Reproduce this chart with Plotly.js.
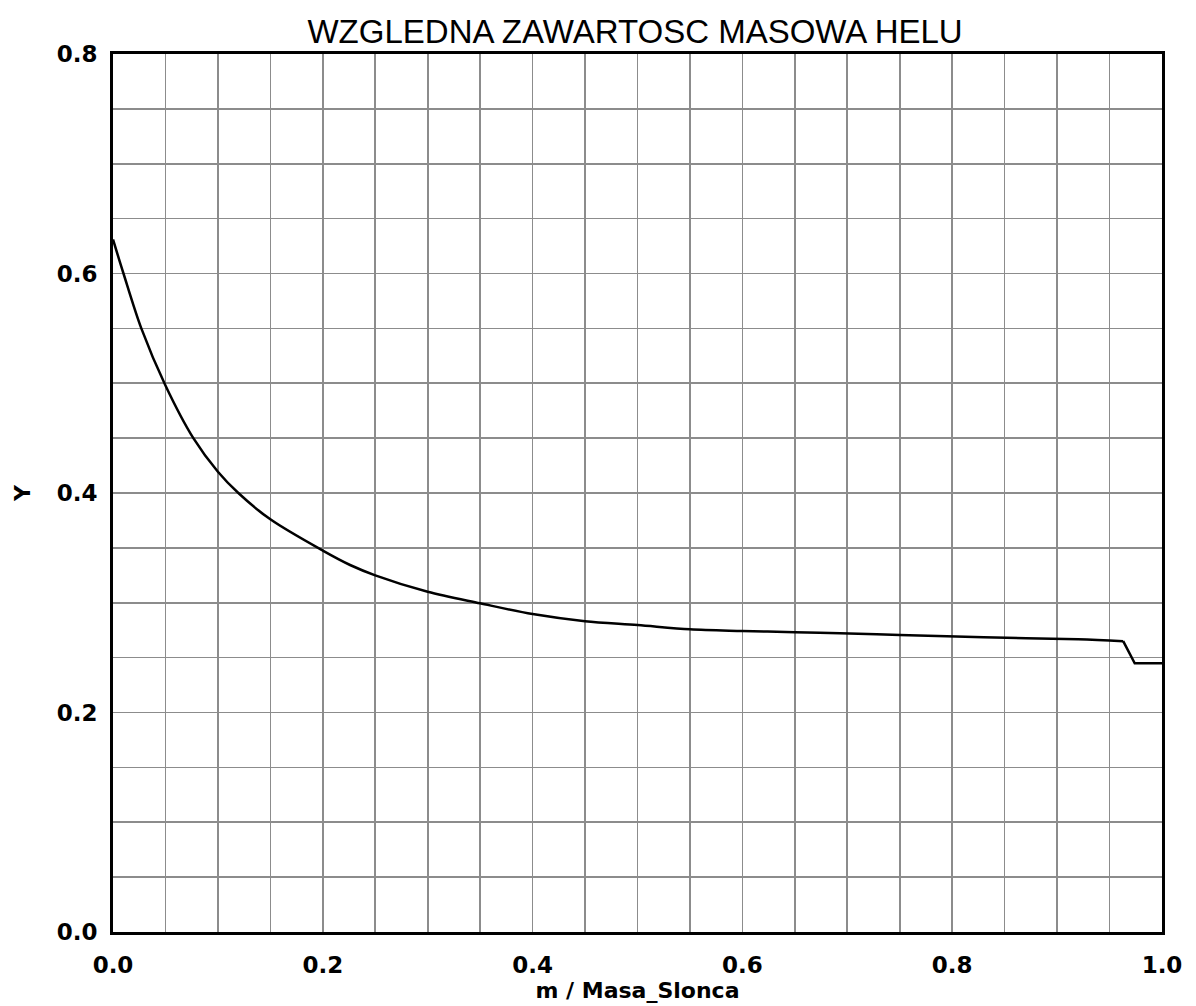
<!DOCTYPE html>
<html>
<head>
<meta charset="utf-8">
<script src="https://cdn.plot.ly/plotly-3.0.1.min.js"></script>
<style>html,body{margin:0;padding:0;background:#fff;}#chart{width:1196px;height:1006px;}</style>
</head>
<body>
<div id="chart"></div>
<script>
// m / Masa_Slonca
const massFraction = [0, 0.01, 0.027, 0.05, 0.0766, 0.1, 0.1195, 0.15, 0.2, 0.226, 0.25, 0.3, 0.35, 0.4, 0.45, 0.5, 0.55, 0.6, 0.65, 0.693, 0.75, 0.83, 0.92, 0.963, 0.974, 1.0];
// Y (helium mass fraction)
const heliumY = [0.631, 0.6, 0.55, 0.498, 0.45, 0.4194, 0.4, 0.376, 0.3475, 0.3344, 0.325, 0.310, 0.2995, 0.2897, 0.2832, 0.2797, 0.2758, 0.2743, 0.2731, 0.2722, 0.2706, 0.2685, 0.2667, 0.265, 0.2448, 0.2448];
const xTickVals = [0, 0.2, 0.4, 0.6, 0.8, 1.0];
const xTickText = ['0.0', '0.2', '0.4', '0.6', '0.8', '1.0'];
const yTickVals = [0, 0.2, 0.4, 0.6, 0.8];
const yTickText = ['0.0', '0.2', '0.4', '0.6', '0.8'];
const gridStep = 0.05;

// smooth part of the profile up to the base of the outer convective zone, then the step
const stepIndex = massFraction.indexOf(0.963);

const tickFont = {family: 'DejaVu Sans', size: 23, color: '#000', weight: 'bold'};

const smoothTrace = {
  x: massFraction.slice(0, stepIndex + 1), y: heliumY.slice(0, stepIndex + 1),
  type: 'scatter', mode: 'lines',
  line: {color: '#000', width: 2.5, shape: 'spline', smoothing: 0.9}, hoverinfo: 'skip'
};
const stepTrace = {
  x: massFraction.slice(stepIndex), y: heliumY.slice(stepIndex),
  type: 'scatter', mode: 'lines',
  line: {color: '#000', width: 2.5}, hoverinfo: 'skip'
};

const layout = {
  width: 1196, height: 1006,
  paper_bgcolor: '#fff', plot_bgcolor: '#fff',
  margin: {l: 113, r: 34, t: 54, b: 74},
  showlegend: false,
  title: {text: 'WZGLEDNA ZAWARTOSC MASOWA HELU', font: {family: 'Liberation Sans', size: 33, color: '#000'}, x: 0.531, xanchor: 'center', y: 0.969, yanchor: 'middle'},
  xaxis: {
    range: [0, 1], autorange: false, fixedrange: true,
    tickvals: xTickVals, ticktext: xTickText, tickfont: tickFont, ticks: '', ticklabelstandoff: 10,
    showgrid: false, zeroline: false,
    showline: true, linecolor: '#000', linewidth: 3, mirror: true,
    minor: {dtick: gridStep, tick0: 0, showgrid: true, gridcolor: '#8c8c8c', gridwidth: 1.6, ticks: ''},
    title: {text: 'm / Masa_Slonca', font: {family: 'DejaVu Sans', size: 22, color: '#000', weight: 'bold'}, standoff: 6}
  },
  yaxis: {
    range: [0, 0.8], autorange: false, fixedrange: true,
    tickvals: yTickVals, ticktext: yTickText, tickfont: tickFont, ticks: '', ticklabelstandoff: 8,
    showgrid: false, zeroline: false,
    showline: true, linecolor: '#000', linewidth: 3, mirror: true,
    minor: {dtick: gridStep, tick0: 0, showgrid: true, gridcolor: '#8c8c8c', gridwidth: 1.6, ticks: ''},
    title: {text: 'Y', font: {family: 'DejaVu Sans', size: 22, color: '#000', weight: 'bold'}, standoff: 20}
  }
};

Plotly.newPlot('chart', [smoothTrace, stepTrace], layout, {staticPlot: true, displayModeBar: false});
</script>
</body>
</html>
